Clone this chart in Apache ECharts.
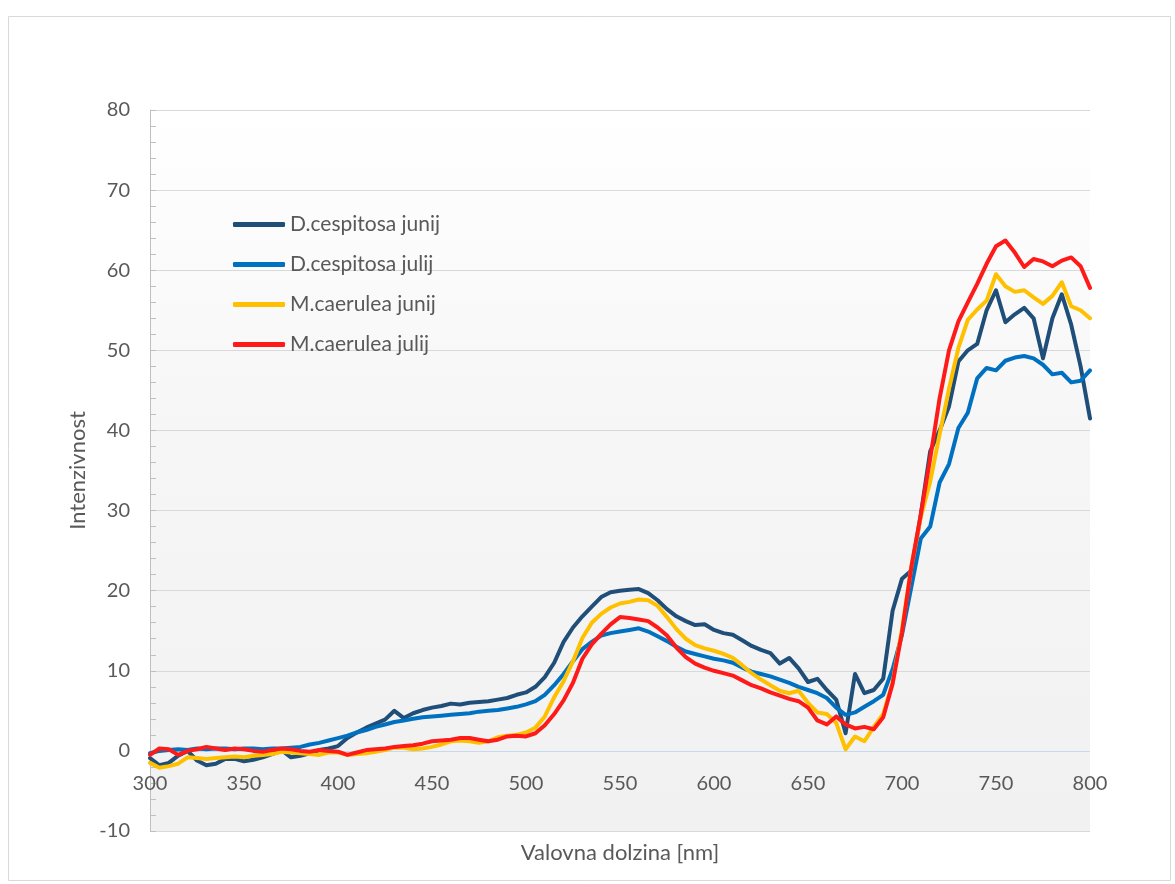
<!DOCTYPE html>
<html>
<head>
<meta charset="utf-8">
<script src="https://cdn.jsdelivr.net/npm/echarts@6/dist/echarts.min.js"></script>
<style>
  html, body { margin: 0; padding: 0; background: #ffffff; }
  #chart { width: 1175px; height: 884px; }
</style>
</head>
<body>
<div id="chart"></div>
<script>
// Wavelength grid [nm], 5 nm steps from 300 to 800
const wavelengths = [];
for (let w = 300; w <= 800; w += 5) wavelengths.push(w);

const seriesNames = ['D.cespitosa junij', 'D.cespitosa julij', 'M.caerulea junij', 'M.caerulea julij'];
const seriesColors = ['#1f4e79', '#0070c0', '#ffc000', '#ff1a1a'];

// Reflectance intensity per wavelength
const dCespitosaJunij = [
  -0.9, -1.8, -1.5, -0.6, 0.0, -1.2, -1.8, -1.6, -1.0, -1.0,
  -1.3, -1.1, -0.8, -0.4, 0.1, -0.8, -0.6, -0.3, 0.1, 0.3,
  0.6, 1.6, 2.3, 2.9, 3.4, 3.9, 5.0, 4.1, 4.7, 5.1,
  5.4, 5.6, 5.9, 5.8, 6.0, 6.1, 6.2, 6.4, 6.6, 7.0,
  7.3, 8.0, 9.2, 11.0, 13.6, 15.4, 16.8, 18.0, 19.2, 19.8,
  20.0, 20.1, 20.2, 19.7, 18.8, 17.7, 16.8, 16.2, 15.7, 15.8,
  15.1, 14.7, 14.5, 13.8, 13.1, 12.6, 12.2, 10.9, 11.6, 10.3,
  8.6, 9.0, 7.6, 6.4, 2.2, 9.6, 7.2, 7.6, 9.0, 17.5,
  21.5, 22.5, 29.5, 37.4, 40.0, 43.0, 48.6, 50.0, 50.8, 55.0,
  57.5, 53.5, 54.5, 55.3, 54.0, 49.0, 54.0, 57.0, 53.2, 48.0,
  41.5
];
const dCespitosaJulij = [
  -0.3, 0.0, 0.1, 0.2, 0.1, 0.3, 0.2, 0.3, 0.3, 0.2,
  0.3, 0.3, 0.2, 0.3, 0.3, 0.4, 0.5, 0.8, 1.0, 1.3,
  1.6, 1.9, 2.3, 2.6, 3.0, 3.3, 3.6, 3.8, 4.0, 4.2,
  4.3, 4.4, 4.5, 4.6, 4.7, 4.9, 5.0, 5.1, 5.3, 5.5,
  5.8, 6.2, 7.0, 8.2, 9.6, 11.2, 12.7, 13.6, 14.4, 14.7,
  14.9, 15.1, 15.3, 14.9, 14.3, 13.7, 13.0, 12.4, 12.1, 11.8,
  11.5, 11.3, 11.0, 10.4, 9.9, 9.6, 9.3, 8.9, 8.5, 8.0,
  7.6, 7.2, 6.6, 5.4, 4.5, 4.8, 5.5, 6.2, 7.0, 10.2,
  14.5, 20.5, 26.5, 28.0, 33.5, 35.8, 40.3, 42.2, 46.5, 47.8,
  47.5, 48.7, 49.1, 49.3, 49.0, 48.2, 47.0, 47.2, 46.0, 46.2,
  47.5
];
const mCaeruleaJunij = [
  -1.5, -2.1, -1.9, -1.6, -0.8, -0.9, -1.0, -0.9, -0.8, -0.7,
  -0.8, -0.6, -0.5, -0.4, -0.1, -0.2, -0.3, -0.4, -0.5, -0.2,
  -0.2, -0.5, -0.4, -0.3, -0.1, 0.1, 0.4, 0.4, 0.2, 0.3,
  0.5, 0.8, 1.2, 1.3, 1.2, 1.0, 1.2, 1.7, 1.9, 2.0,
  2.3, 2.9, 4.3, 6.7, 8.7, 11.2, 14.1, 16.0, 17.1, 17.9,
  18.4, 18.6, 18.9, 18.8, 18.1, 16.7, 15.2, 14.0, 13.2, 12.8,
  12.5, 12.1, 11.6, 10.7, 9.7, 8.9, 8.2, 7.5, 7.2, 7.5,
  6.0, 4.8, 4.6, 3.5, 0.2, 1.8, 1.2, 3.0, 4.6, 8.5,
  15.2, 23.0, 29.2, 33.6, 39.5, 45.2, 50.3, 53.8, 55.1, 56.2,
  59.5, 58.0, 57.3, 57.5, 56.6, 55.8, 56.8, 58.5, 55.5, 55.0,
  54.0
];
const mCaeruleaJulij = [
  -0.5, 0.3, 0.2, -0.5, 0.0, 0.2, 0.5, 0.3, 0.1, 0.3,
  0.2, 0.0, -0.1, 0.1, 0.3, 0.2, 0.0, -0.1, 0.1, 0.0,
  -0.1, -0.5, -0.2, 0.1, 0.2, 0.3, 0.5, 0.6, 0.7, 0.9,
  1.2, 1.3, 1.4, 1.6, 1.6, 1.4, 1.2, 1.4, 1.8, 1.9,
  1.8, 2.2, 3.2, 4.6, 6.3, 8.5, 11.5, 13.3, 14.6, 15.8,
  16.7, 16.6, 16.4, 16.2, 15.4, 14.4, 12.9, 11.7, 10.9, 10.4,
  10.0, 9.7, 9.4, 8.8, 8.2, 7.8, 7.3, 6.9, 6.5, 6.2,
  5.4, 3.8, 3.3, 4.3, 3.3, 2.8, 3.0, 2.7, 4.2, 8.4,
  14.8, 23.0, 29.5, 36.5, 44.0, 50.0, 53.6, 56.0, 58.3, 60.8,
  63.0, 63.7, 62.2, 60.4, 61.4, 61.1, 60.5, 61.2, 61.6, 60.5,
  57.8
];
const seriesValues = [dCespitosaJunij, dCespitosaJulij, mCaeruleaJunij, mCaeruleaJulij];

const FONT = 'Lato, "Open Sans", sans-serif';
const TEXT = '#595959';
const GRID_GRAY = '#d9d9d9';
const ZERO_BLUE = '#c6d9f1';

// Horizontal grid lines from -10 to 80; the one at 0 is drawn light blue
const gridLineColors = [GRID_GRAY, ZERO_BLUE, GRID_GRAY, GRID_GRAY, GRID_GRAY,
                        GRID_GRAY, GRID_GRAY, GRID_GRAY, GRID_GRAY, GRID_GRAY];

const chart = echarts.init(document.getElementById('chart'), null, { renderer: 'canvas' });

chart.setOption({
  animation: false,
  backgroundColor: '#ffffff',
  textStyle: { fontFamily: FONT, color: TEXT },
  graphic: [{
    type: 'rect',
    left: 6, top: 14,
    shape: { width: 1162, height: 864 },
    style: { fill: 'none', stroke: '#d9d9d9', lineWidth: 1 },
    silent: true,
    z: -10
  }],
  grid: {
    left: 150, right: 85, top: 110, bottom: 53,
    containLabel: false,
    outerBoundsMode: 'none',
    show: true,
    borderWidth: 0,
    backgroundColor: new echarts.graphic.LinearGradient(0, 0, 0, 1, [
      { offset: 0, color: '#ffffff' },
      { offset: 0.45, color: '#f6f6f6' },
      { offset: 1, color: '#f1f1f1' }
    ])
  },
  legend: {
    orient: 'vertical',
    left: 228, top: 209,
    itemWidth: 52, itemHeight: 5,
    itemGap: 19,
    icon: 'roundRect',
    data: seriesNames,
    textStyle: { fontFamily: FONT, fontSize: 21, color: TEXT }
  },
  xAxis: {
    type: 'value',
    position: 'bottom',
    min: 300, max: 800, interval: 50,
    name: 'Valovna dolzina [nm]',
    nameLocation: 'middle',
    nameGap: 11,
    nameTextStyle: { fontFamily: FONT, fontSize: 22, color: TEXT },
    axisLine: { show: false, onZero: false },
    axisTick: { show: false },
    axisLabel: { margin: -57, fontFamily: FONT, fontSize: 20, color: TEXT },
    splitLine: { show: false }
  },
  yAxis: {
    type: 'value',
    min: -10, max: 80, interval: 10,
    name: 'Intenzivnost',
    nameLocation: 'middle',
    nameGap: 61,
    nameTextStyle: { fontFamily: FONT, fontSize: 22, color: TEXT },
    axisLine: { show: true, lineStyle: { color: '#bfbfbf', width: 1 } },
    axisTick: { show: true, inside: true, length: 6, lineStyle: { color: '#bfbfbf' } },
    minorTick: { show: true, splitNumber: 5, length: 6, lineStyle: { color: '#bfbfbf' } },
    axisLabel: { margin: 20, fontFamily: FONT, fontSize: 20, color: TEXT },
    splitLine: { show: true, lineStyle: { color: gridLineColors, width: 1 } }
  },
  series: seriesNames.map((name, i) => ({
    name: name,
    type: 'line',
    showSymbol: false,
    symbol: 'none',
    color: seriesColors[i],
    lineStyle: { width: 4, color: seriesColors[i], join: 'round', cap: 'round' },
    data: wavelengths.map((w, k) => [w, seriesValues[i][k]])
  }))
});
</script>
</body>
</html>
